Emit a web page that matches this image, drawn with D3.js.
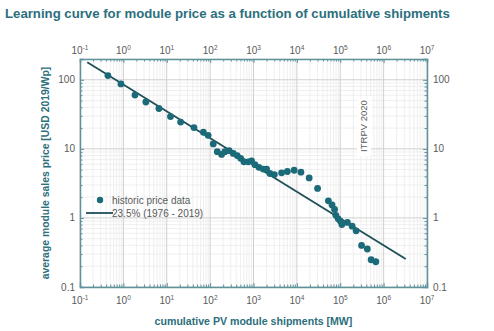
<!DOCTYPE html>
<html>
<head>
<meta charset="utf-8">
<script src="https://cdn.jsdelivr.net/npm/d3@7"></script>
<style>
  body { margin: 0; background: #fff; }
  svg { font-family: "Liberation Sans", Arial, sans-serif; }
</style>
</head>
<body>
<svg id="chart"></svg>
<script>
// Data
var shipments = [0.44, 0.88, 1.85, 3.3, 6.6, 12.2, 20.9, 42.4, 70, 90, 118, 146, 184, 219, 275, 341, 421, 505,
  601, 755, 904, 1080, 1330, 1670, 2000, 2390, 3030, 4440, 6040, 8660, 12400, 19200, 30000, 53200, 64700,
  73900, 79300, 89600, 100500, 109000, 146000, 188000, 232000, 310000, 421000, 515000, 661000];
var prices = [115, 87, 60, 47.7, 38.4, 29.3, 24.4, 20.3, 17.4, 15.7, 11.8, 9.1, 8.3, 9.1, 9.4, 8.6, 8.0, 7.3,
  6.5, 6.5, 6.7, 5.9, 5.4, 5.1, 5.1, 4.4, 4.25, 4.5, 4.7, 4.9, 4.6, 3.8, 2.67, 1.77, 1.54,
  1.33, 1.09, 0.97, 0.90, 0.80, 0.86, 0.76, 0.65, 0.40, 0.355, 0.248, 0.232];
var fitX = [0.147, 3.24e6];
var fitY = [180, 0.254];
var xTickExp = [-1, 0, 1, 2, 3, 4, 5, 6, 7];
var yTicks = [0.1, 1, 10, 100];
var legendLabels = ["historic price data", "23.5% (1976 - 2019)"];

var width = 494, height = 331;
var margin = { top: 59, right: 67, bottom: 44, left: 80 };

var svg = d3.select("#chart").attr("width", width).attr("height", height);

var x = d3.scaleLog().domain([0.1, 1e7]).range([margin.left, width - margin.right]);
var y = d3.scaleLog().domain([0.1, 200]).range([height - margin.bottom, margin.top]);

var teal = "#1b6a79", axisCol = "#5d929c", textCol = "#5a5a5a";

// Title
svg.append("text")
  .attr("x", 5).attr("y", 18)
  .attr("font-size", 13.2).attr("font-weight", "bold")
  .attr("fill", "#2c6f7d")
  .text("Learning curve for module price as a function of cumulative shipments");

// Grid lines, minor then major
var minorX = [], minorY = [];
for (var e = -1; e < 7; e++) for (var m = 2; m < 10; m++) minorX.push(m * Math.pow(10, e));
for (var e2 = -1; e2 < 3; e2++) for (var m2 = 2; m2 < 10; m2++) {
  var v = m2 * Math.pow(10, e2);
  if (v <= 200) minorY.push(v);
}
var grid = svg.append("g");
grid.selectAll(".mx").data(minorX).enter().append("line")
  .attr("x1", function (d) { return x(d); }).attr("x2", function (d) { return x(d); })
  .attr("y1", y(0.1)).attr("y2", y(200))
  .attr("stroke", "#ebebeb").attr("stroke-width", 0.8);
grid.selectAll(".my").data(minorY).enter().append("line")
  .attr("y1", function (d) { return y(d); }).attr("y2", function (d) { return y(d); })
  .attr("x1", x(0.1)).attr("x2", x(1e7))
  .attr("stroke", "#ebebeb").attr("stroke-width", 0.8);
grid.selectAll(".Mx").data(xTickExp).enter().append("line")
  .attr("x1", function (d) { return x(Math.pow(10, d)); }).attr("x2", function (d) { return x(Math.pow(10, d)); })
  .attr("y1", y(0.1)).attr("y2", y(200))
  .attr("stroke", "#cfcfcf").attr("stroke-width", 1);
grid.selectAll(".My").data(yTicks).enter().append("line")
  .attr("y1", function (d) { return y(d); }).attr("y2", function (d) { return y(d); })
  .attr("x1", x(0.1)).attr("x2", x(1e7))
  .attr("stroke", "#cfcfcf").attr("stroke-width", 1);

// ITRPV label with white background
var itg = svg.append("g").attr("transform", "translate(364,126) rotate(-90)");
itg.append("rect").attr("x", -30).attr("y", -7).attr("width", 60).attr("height", 14).attr("fill", "#fff");
itg.append("text").attr("text-anchor", "middle").attr("dy", "0.35em")
  .attr("font-size", 9.5).attr("fill", textCol).text("ITRPV 2020");

// Axes frame with inward ticks
function frameAxis(axisFn, scale, tr, size, minorSize) {
  var g = svg.append("g").attr("transform", tr);
  var major = scale === x ? xTickExp.map(function (d) { return Math.pow(10, d); }) : yTicks;
  var minor = scale === x ? minorX : minorY;
  g.call(axisFn(scale).tickValues(major).tickSize(size).tickFormat(""));
  var gm = svg.append("g").attr("transform", tr);
  gm.call(axisFn(scale).tickValues(minor).tickSize(minorSize).tickFormat(""));
  gm.select(".domain").remove();
  [g, gm].forEach(function (s) {
    s.selectAll("line").attr("stroke", axisCol);
    s.select(".domain").attr("stroke", axisCol).attr("stroke-width", 1.5);
  });
}
frameAxis(d3.axisTop, x, "translate(0," + y(0.1) + ")", 4, 2.5);
frameAxis(d3.axisBottom, x, "translate(0," + y(200) + ")", 4, 2.5);
frameAxis(d3.axisRight, y, "translate(" + x(0.1) + ",0)", 4, 2.5);
frameAxis(d3.axisLeft, y, "translate(" + x(1e7) + ",0)", 4, 2.5);

// x tick labels, top and bottom
function powLabels(yPos) {
  var t = svg.append("g").selectAll("text").data(xTickExp).enter().append("text")
    .attr("x", function (d) { return x(Math.pow(10, d)); })
    .attr("y", yPos).attr("text-anchor", "middle")
    .attr("font-size", 10).attr("fill", textCol);
  t.append("tspan").text("10");
  t.append("tspan").attr("dy", -4).attr("font-size", 6.5).text(function (d) { return d; });
}
powLabels(304);
powLabels(54);

// y tick labels, left and right
function fmt(d) { return d >= 1 ? d3.format("d")(d) : String(d); }
svg.append("g").selectAll("text").data(yTicks).enter().append("text")
  .attr("x", x(0.1) - 5).attr("y", function (d) { return y(d); }).attr("dy", "0.35em")
  .attr("text-anchor", "end").attr("font-size", 10).attr("fill", textCol).text(fmt);
svg.append("g").selectAll("text").data(yTicks).enter().append("text")
  .attr("x", x(1e7) + 6).attr("y", function (d) { return y(d); }).attr("dy", "0.35em")
  .attr("text-anchor", "start").attr("font-size", 10).attr("fill", textCol).text(fmt);

// Axis titles
svg.append("text")
  .attr("x", (x(0.1) + x(1e7)) / 2).attr("y", 325).attr("text-anchor", "middle")
  .attr("font-size", 10.6).attr("font-weight", "bold").attr("fill", "#2c6f7d")
  .text("cumulative PV module shipments [MW]");
svg.append("text")
  .attr("transform", "translate(49," + (y(0.1) + y(200)) / 2 + ") rotate(-90)")
  .attr("text-anchor", "middle")
  .attr("font-size", 10.4).attr("font-weight", "bold").attr("fill", "#2c6f7d")
  .text("average module sales price [USD 2019/Wp]");

// Fit line
var pts = shipments.map(function (d, i) { return { s: d, p: prices[i] }; });
var line = d3.line().x(function (d) { return x(d[0]); }).y(function (d) { return y(d[1]); });
svg.append("path")
  .datum(fitX.map(function (d, i) { return [d, fitY[i]]; }))
  .attr("d", line).attr("fill", "none").attr("stroke", "#1f4f59").attr("stroke-width", 1.8);

// Price dots
svg.append("g").selectAll("circle").data(pts).enter().append("circle")
  .attr("cx", function (d) { return x(d.s); })
  .attr("cy", function (d) { return y(d.p); })
  .attr("r", 3.4).attr("fill", teal);

// Legend
var lg = svg.append("g");
lg.append("circle").attr("cx", 100).attr("cy", 200).attr("r", 3.2).attr("fill", teal);
lg.append("line").attr("x1", 86).attr("x2", 113).attr("y1", 213).attr("y2", 213)
  .attr("stroke", "#1f4f59").attr("stroke-width", 1.8);
lg.selectAll("text").data(legendLabels).enter().append("text")
  .attr("x", 112).attr("y", function (d, i) { return 200 + i * 13; }).attr("dy", "0.35em")
  .attr("font-size", 10).attr("fill", textCol).text(function (d) { return d; });
</script>
</body>
</html>
